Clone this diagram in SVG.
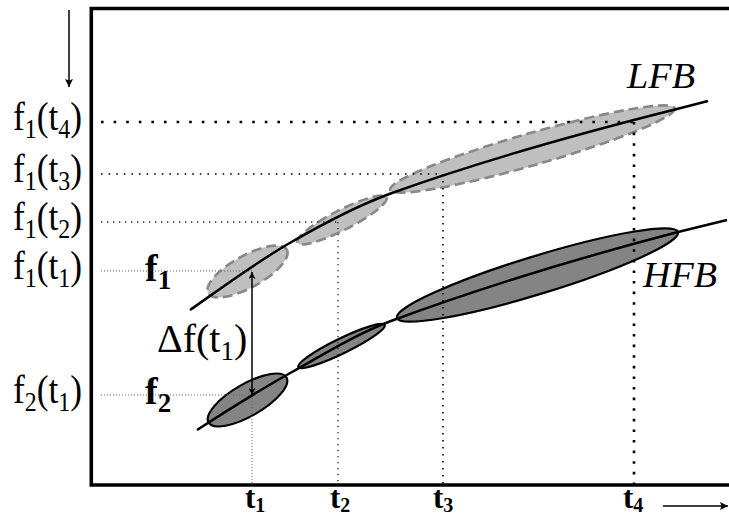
<svg xmlns="http://www.w3.org/2000/svg" width="729" height="519" viewBox="0 0 729 519">
<style>
.lab{font-family:"Liberation Serif","Times New Roman",serif;font-size:40px;fill:#000}
.sub{font-size:27px}
.bold{font-weight:bold}
.ital{font-style:italic}
.lfb{fill:#bfbfbf;stroke:#888;stroke-width:2.6;stroke-dasharray:10 5}
.hfb{fill:#848484;stroke:#000;stroke-width:2.2}
.curve{fill:none;stroke:#000;stroke-width:2.5}
.g4{stroke:#000;stroke-width:2.6;stroke-dasharray:2.6 10;fill:none}
.g3{stroke:#000;stroke-width:1.6;stroke-dasharray:1.6 6;fill:none}
.g2{stroke:#222;stroke-width:1.3;stroke-dasharray:1.3 4.7;fill:none}
.g1{stroke:#666;stroke-width:1;stroke-dasharray:1 2;fill:none}
.arr{stroke:#000;stroke-width:1.5;fill:none}
.frame{stroke:#000;stroke-width:3.6;fill:none}
</style>
<defs>
<marker id="ah" viewBox="0 0 10 10" refX="10" refY="5" markerWidth="10" markerHeight="7" markerUnits="userSpaceOnUse" orient="auto-start-reverse">
<path d="M0,0 L10,5 L0,10 L2.5,5 Z" fill="#000"/>
</marker>
<marker id="ah2" viewBox="0 0 10 10" refX="10" refY="5" markerWidth="14" markerHeight="8" markerUnits="userSpaceOnUse" orient="auto">
<path d="M0,0 L10,5 L0,10 L2,5 Z" fill="#000"/>
</marker>
</defs>

<g id="frame">
<path class="frame" d="M729,8.5 L91.3,8.5 L91.3,485 L729,485"/>
</g>

<g id="ellipses">
<g id="E1"><ellipse class="lfb" cx="247.5" cy="271.5" rx="45" ry="16" transform="rotate(-29 247.5 271.5)"/></g>
<g id="E2"><ellipse class="lfb" cx="342" cy="220" rx="50" ry="10" transform="rotate(-27 342 220)"/></g>
<g id="E3"><ellipse class="lfb" cx="532.5" cy="149" rx="148" ry="16" transform="rotate(-16 532.5 149)"/></g>
<g id="D1"><ellipse class="hfb" cx="247.5" cy="400" rx="45" ry="16" transform="rotate(-30 247.5 400)"/></g>
<g id="D2"><ellipse class="hfb" cx="341.5" cy="346" rx="48" ry="7.5" transform="rotate(-26 341.5 346)"/></g>
<g id="D3"><ellipse class="hfb" cx="537.5" cy="275" rx="147" ry="19" transform="rotate(-17 537.5 275)"/></g>
</g>

<g id="connectors">
<path class="g4" d="M101,122 H634"/>
<path class="g4" d="M634,122 V485" style="stroke-dasharray:2.6 8"/>
<path class="g3" d="M101,174 H443"/>
<path class="g3" d="M443,174 V485" style="stroke-dasharray:1.6 5.4"/>
<path class="g2" d="M101,222 H338"/>
<path class="g2" d="M338,222 V485"/>
<path class="g1" d="M101,271 H252"/>
<path class="g1" d="M101,395 H252"/>
<path class="g1" d="M252,395 V485"/>
<path class="curve" d="M190,310 C222.7,287.1 255.3,263 288,244 C322.7,223.9 357.3,205.5 392,193 C487,158.8 582,132.75 677,109 L708,101"/>
<path class="curve" d="M197,430 C228.7,409.4 260.3,389.7 292,372 C325,353.5 358,333.2 391,321 C486.7,285.6 582.3,256.9 678,232 L727,220"/>
<path class="arr" d="M252,395 V272" marker-start="url(#ah)" marker-end="url(#ah)"/>
<path class="arr" d="M69,10 V87" marker-end="url(#ah2)"/>
<path class="arr" d="M663,506 H728" marker-end="url(#ah2)"/>
</g>

<g id="labels">
<text class="lab" transform="translate(13,130) scale(0.885,1)">f<tspan class="sub" dy="8">1</tspan><tspan dy="-8">(t</tspan><tspan class="sub" dy="8">4</tspan><tspan dy="-8">)</tspan></text>
<text class="lab" transform="translate(13,182) scale(0.885,1)">f<tspan class="sub" dy="8">1</tspan><tspan dy="-8">(t</tspan><tspan class="sub" dy="8">3</tspan><tspan dy="-8">)</tspan></text>
<text class="lab" transform="translate(13,230) scale(0.885,1)">f<tspan class="sub" dy="8">1</tspan><tspan dy="-8">(t</tspan><tspan class="sub" dy="8">2</tspan><tspan dy="-8">)</tspan></text>
<text class="lab" transform="translate(13,279) scale(0.885,1)">f<tspan class="sub" dy="8">1</tspan><tspan dy="-8">(t</tspan><tspan class="sub" dy="8">1</tspan><tspan dy="-8">)</tspan></text>
<text class="lab" transform="translate(13,403) scale(0.885,1)">f<tspan class="sub" dy="8">2</tspan><tspan dy="-8">(t</tspan><tspan class="sub" dy="8">1</tspan><tspan dy="-8">)</tspan></text>
<text class="lab bold" x="145" y="281" style="font-size:38px">f<tspan class="sub" dy="8">1</tspan></text>
<text class="lab bold" x="145" y="404" style="font-size:38px">f<tspan class="sub" dy="8">2</tspan></text>
<text class="lab" x="157" y="352">Δf(t<tspan class="sub" dy="8">1</tspan><tspan dy="-8">)</tspan></text>
<text class="lab ital" x="627" y="88" style="font-size:36px" textLength="68" lengthAdjust="spacingAndGlyphs">LFB</text>
<text class="lab ital" x="643" y="287" style="font-size:36px" textLength="74" lengthAdjust="spacingAndGlyphs">HFB</text>
<text class="lab bold" x="245" y="508" style="font-size:31px">t<tspan style="font-size:20px" dy="4">1</tspan></text>
<text class="lab bold" x="330" y="508" style="font-size:31px">t<tspan style="font-size:20px" dy="4">2</tspan></text>
<text class="lab bold" x="433" y="508" style="font-size:31px">t<tspan style="font-size:20px" dy="4">3</tspan></text>
<text class="lab bold" x="623" y="508" style="font-size:31px">t<tspan style="font-size:20px" dy="4">4</tspan></text>
</g>
</svg>
